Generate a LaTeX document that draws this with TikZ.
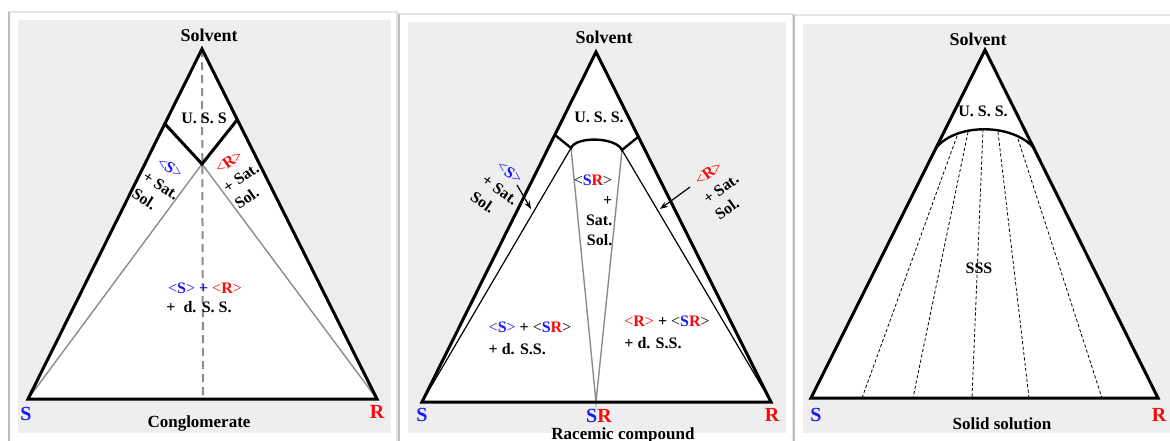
\documentclass[tikz,border=0pt]{standalone}
\usepackage{fontspec}
\setmainfont{Liberation Serif}
\usetikzlibrary{calc, arrows.meta}
\definecolor{panelgray}{RGB}{238,238,238}
\definecolor{rimgray}{RGB}{228,228,228}
\definecolor{shadegray}{RGB}{190,190,190}
\definecolor{tielgray}{RGB}{140,140,140}
\definecolor{sblue}{RGB}{25,25,250}
\definecolor{rred}{RGB}{250,10,10}
\newcommand{\bS}{\textcolor{sblue}{S}}
\newcommand{\rR}{\textcolor{rred}{R}}
\newcommand{\encS}{\textcolor{sblue}{{\mdseries\textless}S{\mdseries\textgreater}}}
\newcommand{\encR}{\textcolor{rred}{{\mdseries\textless}R{\mdseries\textgreater}}}
\newcommand{\encSR}{{\mdseries\textless}\bS\rR{\mdseries\textgreater}}

\begin{document}
\begin{tikzpicture}[x=0.5pt, y=-0.5pt,
  lab/.style={font=\bfseries\fontsize{8}{9}\selectfont, inner sep=0pt},
  stack/.style={font=\bfseries\fontsize{8}{10}\selectfont, inner sep=0pt},
  ttl/.style={font=\bfseries\fontsize{8.5}{10}\selectfont, inner sep=0pt},
  top/.style={font=\bfseries\fontsize{9}{10}\selectfont, inner sep=0pt},
  corner/.style={font=\bfseries\fontsize{10}{11}\selectfont, inner sep=0pt},
  bold/.style={line width=1.5pt, line join=miter},
  tie/.style={line width=0.7pt, draw=tielgray},
  thinb/.style={line width=0.6pt},
  midline/.style={line width=1pt, draw=tielgray, dash pattern=on 4pt off 2.5pt},
  sss/.style={line width=0.4pt, dash pattern=on 1.6pt off 1.1pt}]
  \useasboundingbox (0,0) rectangle (1170,440);
  \fill[white] (0,0) rectangle (1170,440);

  % panel frames
  \foreach \xa/\ya/\xb/\xc/\yc/\xd in {9/12/397/18/20/391, 399/14/793/408/22/786, 794/15/1175/803/24/1170} {
    \draw[rimgray, line width=0.6pt, fill=white] (\xa,445) -- (\xa,\ya) -- (\xb,\ya) -- (\xb,445);
    \draw[shadegray, line width=1pt] (\xa,\ya) -- (\xa,445);
    \fill[panelgray] (\xc,\yc) rectangle (\xd,433);
  }

  % ---- conglomerate
  \coordinate (S1) at (28,399);
  \coordinate (R1) at (377,399);
  \coordinate (V1) at (202,49);
  \coordinate (L1) at (165,124);
  \coordinate (K1) at (237,120);
  \coordinate (M1) at (202,164);
  \coordinate (B1) at (203,399);
  \fill[white] (S1) -- (R1) -- (V1) -- cycle;
  \draw[midline] (V1) -- (B1);
  \draw[tie] (S1) -- (M1) -- (R1);
  \draw[bold] (L1) -- (M1) -- (K1);
  \draw[bold] (S1) -- (R1) -- (V1) -- cycle;
  \node[top] (solv1) at (209,35) {Solvent};
  \node[lab] (uss1) at (204,118) {U. S. S};
  \node[stack, align=left, rotate=-33] (lsat1) at (161,186) {\ \encS\\+ Sat.\\Sol.};
  \node[stack, align=left, rotate=35] (rsat1) at (241,178) {\ \encR\\+ Sat.\\Sol.};
  \node[lab] (mix1) at (205,288) {\encS\ \textcolor{sblue}{+} \encR};
  \node[lab] (dss1) at (199,307) {+\ \ d. S. S.};
  \node[corner] (cs1) at (26,414) {\bS};
  \node[corner] (cr1) at (377,412) {\rR};
  \node[ttl] (name1) at (199,423) {Conglomerate};

  % ---- racemic compound
  \coordinate (S2) at (422,402);
  \coordinate (R2) at (771,402);
  \coordinate (V2) at (596,52);
  \coordinate (SR2) at (596,402);
  \coordinate (L2) at (555,135);
  \coordinate (K2) at (638,137);
  \coordinate (A2) at (571,148);
  \coordinate (B2) at (622,150);
  \fill[white] (S2) -- (R2) -- (V2) -- cycle;
  \draw[tie] (A2) -- (SR2) -- (B2);
  \draw[thinb] (A2) -- (S2);
  \draw[thinb] (B2) -- (R2);
  \draw[bold, line width=1.2pt] (L2) -- (A2) .. controls (576,136) and (616,137) .. (B2) -- (K2);
  \draw[bold] (S2) -- (R2) -- (V2) -- cycle;
  \coordinate (pl2) at (517,185);
  \coordinate (ql2) at (531,209);
  \coordinate (pr2) at (690,187);
  \coordinate (qr2) at (660,209);
  \draw[thinb, -{Stealth[length=4pt, width=3pt]}] (pl2) -- (ql2);
  \draw[thinb, -{Stealth[length=4pt, width=3pt]}] (pr2) -- (qr2);
  \node[top] (solv2) at (604,37) {Solvent};
  \node[lab] (uss2) at (599,117) {U. S. S.};
  \node[stack, align=left, rotate=-35] (lsat2) at (500,190) {\ \encS\\+ Sat.\\Sol.};
  \node[stack, align=left, rotate=36] (rsat2) at (721,189) {\ \encR\\+ Sat.\\Sol.};
  \node[stack, align=right] (mid2) at (593,210) {\encSR\\+\\Sat.\\Sol.};
  \node[lab, align=left] (lmix2) at (530,338) {\encS\ + \encSR\\[2pt]+ d. S.S.};
  \node[lab, align=left] (rmix2) at (667,332) {\encR\ + \encSR\\[2pt]+ d. S.S.};
  \node[corner] (cs2) at (422,415) {\bS};
  \node[corner] (csr2) at (599,416) {\bS\rR};
  \node[corner] (cr2) at (772,415) {\rR};
  \node[ttl, anchor=base] (name2) at (623,439) {Racemic compound};

  % ---- solid solution
  \coordinate (S3) at (811,398);
  \coordinate (R3) at (1158,398);
  \coordinate (V3) at (985,50);
  \coordinate (A3) at (936,148);
  \coordinate (B3) at (1034,148);
  \fill[white] (S3) -- (R3) -- (V3) -- cycle;
  \foreach \xa/\ya/\xb in {957/136/862, 968/132/913, 983/129/972, 998/132/1029, 1018/139/1102}
    \draw[sss] (\xa,\ya) -- (\xb,398);
  \draw[bold, line width=1.2pt] (A3) .. controls (956,123) and (1012,123) .. (B3);
  \draw[bold] (S3) -- (R3) -- (V3) -- cycle;
  \node[top] (solv3) at (978,39) {Solvent};
  \node[lab] (uss3) at (983,111) {U. S. S.};
  \node[lab] (sss3) at (979,268) {SSS};
  \node[corner] (cs3) at (816,415) {\bS};
  \node[corner] (cr3) at (1159,415) {\rR};
  \node[ttl] (name3) at (1002,424) {Solid solution};
\end{tikzpicture}
\end{document}
